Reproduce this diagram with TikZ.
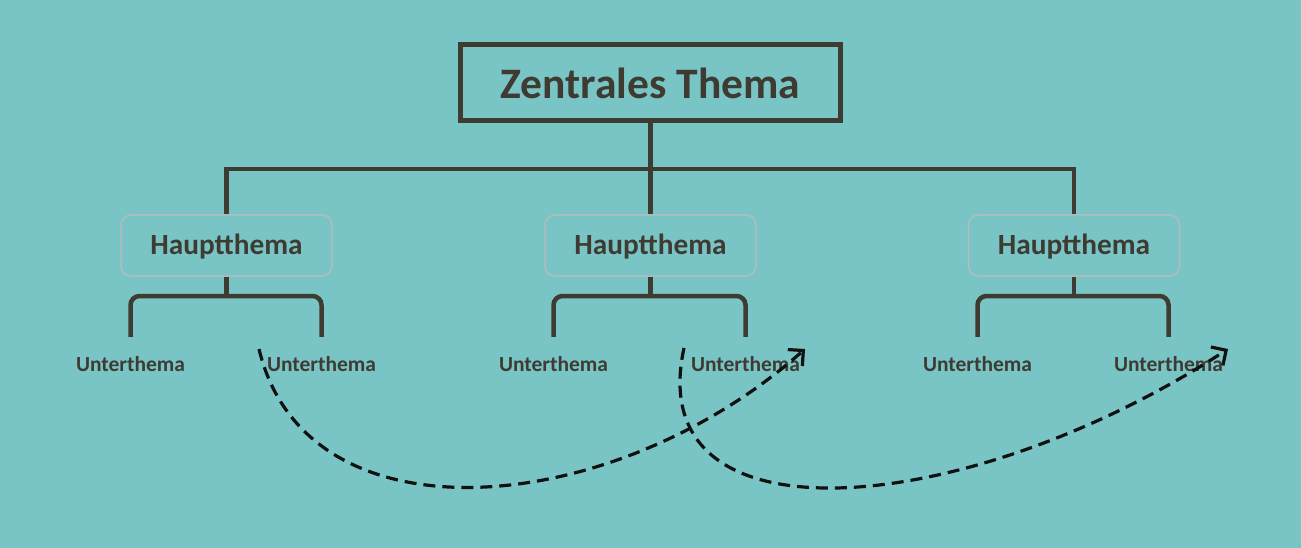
\documentclass[tikz,border=0pt]{standalone}
\usepackage{fontspec}
\setmainfont{Carlito}
\usetikzlibrary{arrows.meta}
\definecolor{bgc}{HTML}{79C5C5}
\definecolor{ink}{HTML}{3E3B33}
\definecolor{hborder}{HTML}{B2BCBA}
\definecolor{arr}{HTML}{111111}
\tikzset{
  mainbox/.style={draw=ink, line width=5pt, minimum width=380pt, minimum height=76pt,
    text=ink, font=\fontsize{43.5}{50}\selectfont\bfseries, text height=32pt, text depth=0pt, inner sep=0pt},
  hbox/.style={draw=hborder, line width=1.5pt, rounded corners=10pt, minimum width=211pt, minimum height=61pt,
    text=ink, font=\fontsize{29.3}{34}\selectfont\bfseries, text height=18.5pt, text depth=0pt, inner sep=0pt},
  ubox/.style={minimum height=56pt, inner sep=0pt, text=ink,
    font=\fontsize{21.5}{25}\selectfont\bfseries, text height=13.6pt, text depth=0pt},
  conn/.style={draw=ink, line width=4.5pt},
  dasharrow/.style={draw=arr, line width=3.2pt, dash pattern=on 12pt off 7pt,
    -{Straight Barb[length=11pt,width=22pt]}},
}
\begin{document}
\begin{tikzpicture}[x=1pt,y=-1pt]
\fill[bgc] (0,0) rectangle (1301,548);
\useasboundingbox (0,0) rectangle (1301,548);

\node[mainbox] (main) at (650.5,83) {Zentrales Thema};

\node[hbox] (h1) at (226.5,245.5) {Hauptthema};
\node[hbox] (h2) at (650.5,245.5) {Hauptthema};
\node[hbox] (h3) at (1074,245.5) {Hauptthema};

\node[ubox] (u11) at (130.5,365) {Unterthema};
\node[ubox] (u12) at (321.5,365) {Unterthema};
\node[ubox] (u21) at (553.5,365) {Unterthema};
\node[ubox] (u22) at (745.5,365) {Unterthema};
\node[ubox] (u31) at (977.5,365) {Unterthema};
\node[ubox] (u32) at (1168.5,365) {Unterthema};

\coordinate (hub) at (650.5,169);
\draw[conn] (main.south) -- (hub);
\draw[conn] (h1.north) -- (h1.north |- hub) -- (h3.north |- hub) -- (h3.north);
\draw[conn] (hub) -- (h2.north);

\coordinate (b1) at (226.5,296);
\coordinate (b2) at (650.5,296);
\coordinate (b3) at (1074,296);
\draw[conn] (h1.south) -- (b1);
\draw[conn] (h2.south) -- (b2);
\draw[conn] (h3.south) -- (b3);
\draw[conn, rounded corners=9pt] (u11.north) -- (u11.north |- b1) -- (u12.north |- b1) -- (u12.north);
\draw[conn, rounded corners=9pt] (u21.north) -- (u21.north |- b2) -- (u22.north |- b2) -- (u22.north);
\draw[conn, rounded corners=9pt] (u31.north) -- (u31.north |- b3) -- (u32.north |- b3) -- (u32.north);

\coordinate (s1) at (259,349);
\coordinate (e1) at (805,349);
\coordinate (s2) at (684,348);
\coordinate (e2) at (1228,349);
\draw[dasharrow] (s1) .. controls (306,546) and (612,520) .. (e1);
\draw[dasharrow] (s2) .. controls (640,548) and (965,520) .. (e2);
\end{tikzpicture}
\end{document}
